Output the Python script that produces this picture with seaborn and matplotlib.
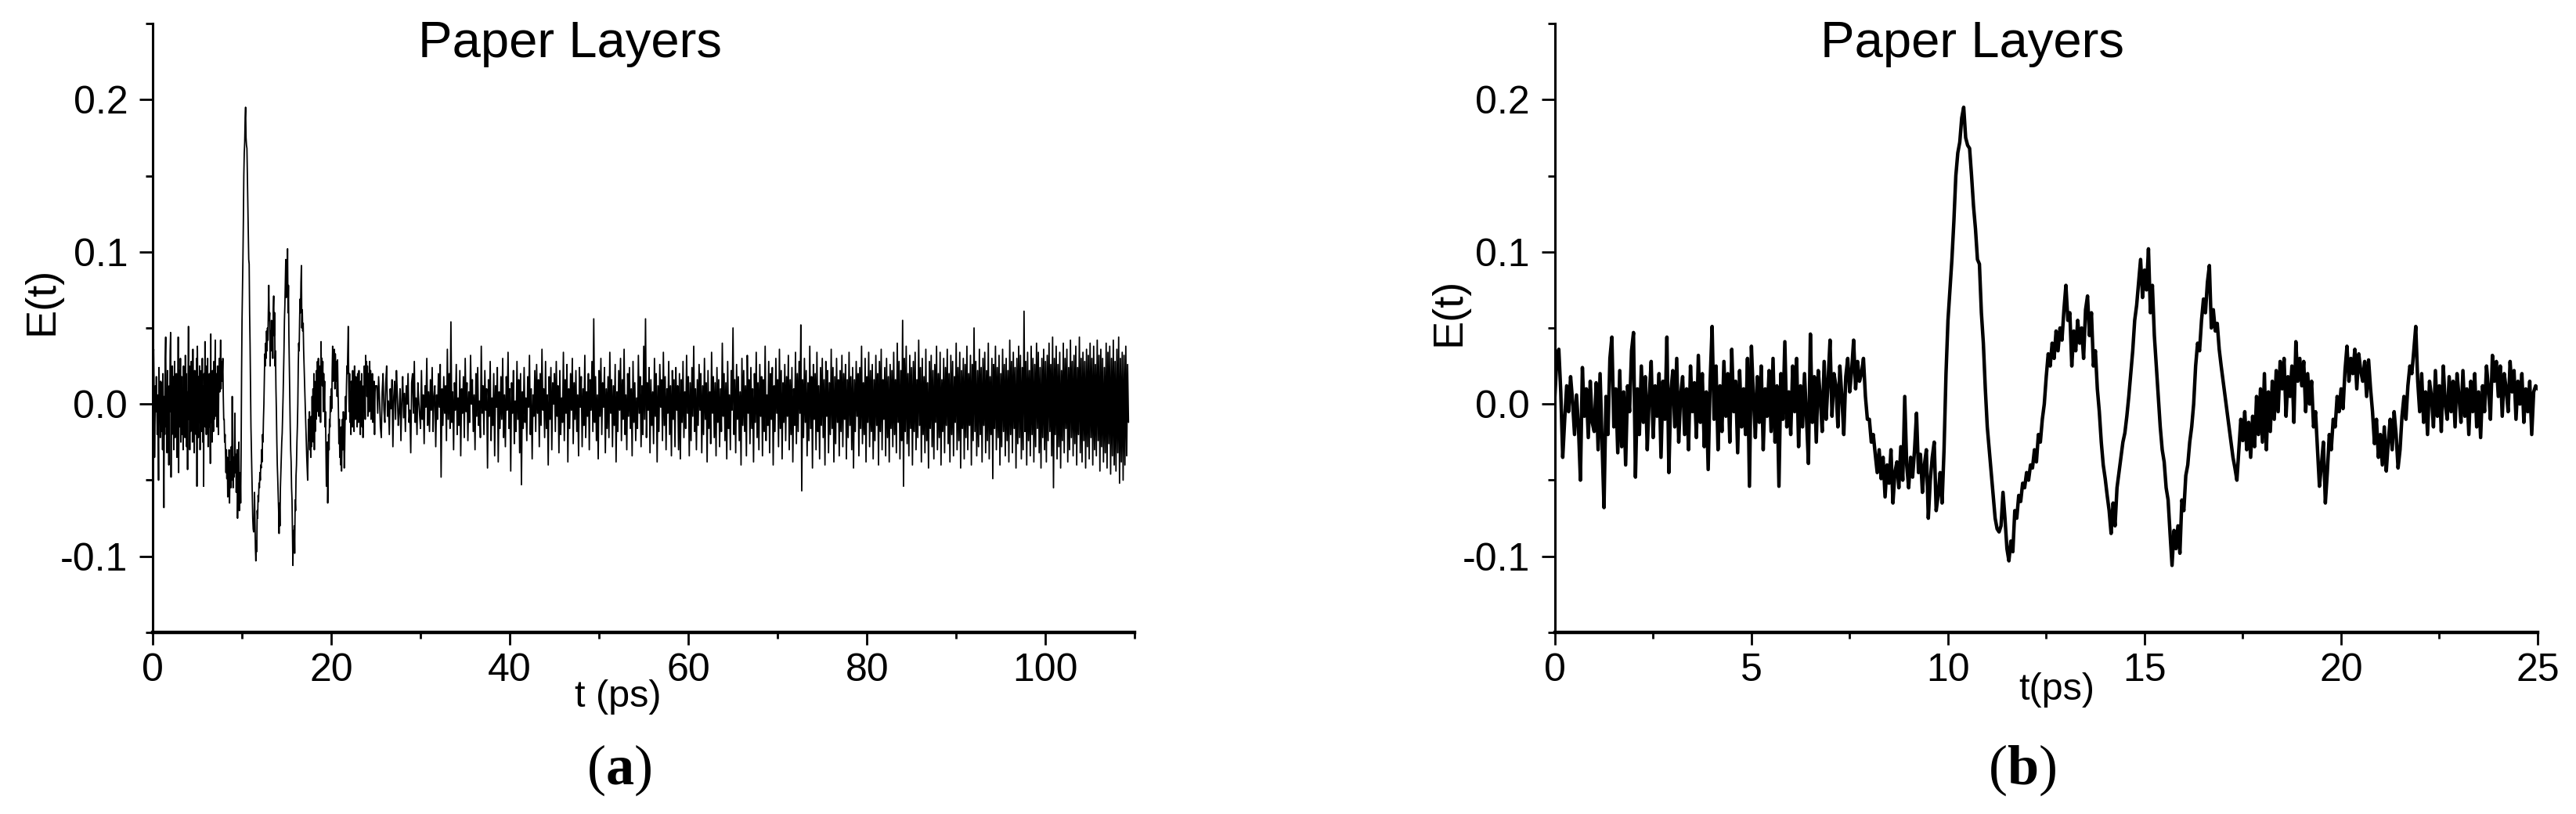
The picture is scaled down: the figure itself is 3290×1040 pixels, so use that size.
import numpy as np
import pandas as pd
import matplotlib
matplotlib.use("Agg")
import matplotlib.pyplot as plt
import seaborn as sns
from matplotlib.ticker import FixedLocator

e_first_25ps = [
    5, 30, 36, 8, -35, -10, 12, -5, 18, 2, -20, 6, -15, -50, 24, -8, 10, -22, 15, -12,
    -18, 14, -30, 20, -25, -68, 5, -20, 30, 44, -15, 10, -32, 22, -28, 8, -40, 12, -5, 35,
    47, -48, 10, -20, 25, -12, 18, -30, 5, 28, -22, 12, -8, 20, -35, 15, -10, 44, -45, 8,
    22, -15, 30, -25, 6, 18, -20, 10, -30, 25, -5, 14, -22, 32, -12, 20, -28, 8, -43, 15,
    51, -10, 25, -30, 12, -18, 28, -8, 20, -25, 36, -5, 15, -32, 22, -15, 10, -20, 30, -54,
    38, 5, -22, 18, -12, 25, -30, 10, -8, 22, -18, 30, -25, 12, -54, 20, -10, 41, -15, 8,
    -20, 25, -5, 30, -28, 12, -15, 20, -8, -39, 46, -12, 18, -25, 22, 5, -18, 28, -10, 15,
    42, -8, 20, 12, -15, 25, 5, -20, 18, 30, 8, 22, 42, 10, 28, 15, 20, 30, 5, -10,
    -10, -25, -20, -33, -45, -30, -49, -35, -61, -40, -52, -30, -65, -45, -38, -55, -28, -50, 5, -40,
    -55, -35, -48, -30, -6, -45, -33, -58, -40, -30, -75, -50, -35, -25, -70, -60, -45, -65, -30, 20,
    55, 75, 95, 120, 150, 165, 172, 188, 195, 175, 170, 168, 150, 130, 115, 95, 92, 60, 40, 10,
    -15, -30, -45, -60, -75, -82, -84, -80, -58, -75, -95, -103, -90, -97, -70, -75, -60, -64, -52, -55,
    -45, -50, -40, -42, -30, -38, -20, -25, -10, 0, 18, 33, 25, 40, 30, 48, 35, 50, 42, 62,
    78, 55, 60, 25, 48, 35, 55, 40, 50, 30, 62, 71, 45, 60, 25, 35, 10, -5, -25, -40,
    -49, -60, -70, -85, -65, -80, -55, -45, -35, -25, -19, -8, 5, 20, 35, 55, 65, 80, 95, 70,
    88, 75, 102, 60, 78, 45, 25, 5, -15, -30, -38, -55, -63, -85, -106, -83, -95, -80, -98, -63,
    -70, -47, -40, -25, -15, 0, 25, 40, 35, 55, 69, 60, 80, 91, 50, 62, 48, 53, 36, 25,
    15, 5, -5, -15, -25, -35, -42, -50, -30, -10, -24, -5, -30, -12, -35, -8, -28, 5, -20, 10,
    -25, 20, -30, 8, -18, 15, -10, 22, -5, 28, 10, 30, -8, 18, 5, 25, -12, 41, 15, 30,
    12, 28, -5, 20, 0, 15, -15, -5, -30, -54, -40, -25, -65, -45, -20, -30, -10, -15, 5, -5,
    10, -3, 22, 38, 15, 30, 20, 36, 10, 33, 22, 15, 28, 5, 29, 10, -5, -26, -10, -35,
    -20, -40, -15, -44, -25, -10, -30, -5, -20, -42, -30, -8, 5, -10, 12, 25, 20, 35, 51, 15,
    -5, 20, -12, 8, -20, 15, 5, -15, 22, -8, 12, -18, 25, 0, -10, 18, -5, 15, -15, 20,
    5, -12, 22, -8, 10, -20, 15, -5, 20, -15, 8, -22, 12, -5, 25, 10, -10, 32, 15, 28,
    5, 25, -8, 20, 10, -5, 28, 8, 22, -10, 15, 0, 20, -12, 10, -5, 15, -20, 8, 12,
    10,
]

# rest of the long record, in units of 1e-3, sampled every 0.1 ps from 25.1 to 109.3 ps
e_tail = [
    12, -6, 18, 4, -15, -22, 8, 20, -4, -12, 14, 25, -8, 2, -20, 10, -3, 16, -28, 5,
    15, -10, 22, 6, -14, -5, 10, -24, 3, 18, -9, 7, -18, 12, 0, 20, -12, -4, -32, 14,
    20, -6, 28, -12, 4, -20, 14, 2, -8, -16, 22, -10, 6, -26, 12, -2, 30, -14, 8, -18,
    16, -4, 24, -18, 5, 12, -28, 6, -10, 20, -2, 26, -48, 10, -14, 18, -6, 12, -24, 36,
    -10, 20, -16, 54, -12, 8, -30, 14, -4, 26, -20, 4, -14, 22, -34, 10, -6, 18, -22, 30,
    -5, 14, -24, 8, -12, 32, 0, 16, -18, 6, -30, 20, -8, 24, -14, 2, -22, 38, -6, 12,
    -20, 22, -4, 10, -42, 16, -8, 28, -24, 4, -14, 20, -34, 12, -2, 24, -38, 8, -16, 18,
    -10, 30, -22, 6, -28, 18, -4, 34, -16, 10, -44, 14, -6, 22, -26, 2, -18, 28, -10, 16,
    -32, 20, -53, 8, -16, 24, -12, 4, -24, 18, -2, 32, -20, 10, -36, 6, -8, 22, -18, 26,
    -6, 16, -28, 20, -14, 36, -4, 10, -22, 28, -16, 6, -40, 18, -10, 24, -30, 14, 0, 20,
    -18, 28, -8, 12, -32, 22, -20, 4, -12, 34, -24, 16, -6, 26, -38, 10, -16, 20, -4, 30,
    -26, 14, -10, 22, -18, 6, -34, 24, -2, 18, -28, 10, -14, 32, -22, 8, -8, 20, -30, 16,
    -4, 28, -18, 56, -12, 18, -24, 6, -36, 22, -8, 30, -20, 14, -2, 24, -32, 10, -16, 18,
    -22, 34, -6, 16, -28, 12, -14, 26, -38, 8, -18, 22, -4, 30, -24, 16, -10, 36, -20, 6,
    -30, 20, -8, 24, -16, 10, -34, 28, -12, 14, -24, 4, -16, 32, -6, 18, -28, 12, -20, 38,
    -10, 56, -22, 14, -4, 24, -32, 16, -14, 8, -26, 30, -8, 20, -38, 12, -18, 26, -2, 16,
    -24, 34, -14, 18, -30, 10, -6, 28, -20, 12, -34, 22, -10, 16, -28, 24, -4, 12, -30, 20,
    -36, 16, -12, 28, -22, 8, -16, 32, -6, 18, -34, 14, -24, 24, -8, 38, -18, 10, -30, 16,
    -14, 26, -4, 20, -32, 12, -20, 30, -10, 14, -38, 22, -16, 8, -26, 34, -6, 18, -22, 14,
    -34, 24, -12, 16, -28, 10, -18, 40, -8, 20, -24, 14, -36, 28, -16, 6, -30, 22, -4, 50,
    -20, 16, -32, 26, -10, 18, -24, 8, -40, 30, -14, 22, -18, 12, -34, 32, -6, 16, -26, 24,
    -16, 10, -38, 20, -12, 34, -22, 14, -30, 26, -8, 18, -34, 16, -18, 38, -24, 6, -14, 28,
    -32, 20, -10, 24, -40, 12, -18, 30, -6, 16, -28, 36, -16, 22, -36, 14, -12, 26, -24, 18,
    -8, 32, -30, 16, -20, 24, -38, 10, -14, 34, -26, 20, -18, 28, -6, 52, -57, 16, -22, 30,
    -12, 22, -34, 14, -24, 38, -16, 18, -42, 26, -10, 20, -30, 34, -18, 12, -36, 24, -14, 30,
    -22, 16, -40, 28, -8, 22, -32, 14, -20, 36, -16, 24, -38, 18, -26, 30, -12, 16, -34, 22,
    -18, 32, -28, 20, -10, 26, -36, 16, -22, 34, -14, 18, -30, 24, -42, 16, -18, 28, -8, 20,
    -34, 24, -16, 38, -26, 14, -20, 30, -38, 18, -12, 34, -28, 22, -18, 26, -36, 16, -24, 32,
    -14, 20, -40, 28, -18, 36, -30, 16, -10, 24, -34, 30, -22, 18, -38, 26, -16, 22, -28, 34,
    -20, 16, -32, 40, -12, 28, -36, 22, -24, 55, -54, 30, -18, 38, -26, 20, -34, 32, -16, 24,
    -40, 28, -18, 34, -30, 16, -22, 42, -14, 24, -38, 30, -20, 18, -32, 36, -24, 14, -42, 28,
    -16, 32, -28, 22, -36, 26, -12, 38, -30, 20, -22, 34, -40, 16, -18, 30, -32, 24, -14, 36,
    -26, 20, -38, 32, -20, 28, -34, 18, -12, 40, -30, 24, -24, 34, -42, 22, -16, 30, -36, 26,
    -22, 38, -30, 20, -14, 32, -40, 26, -24, 50, -18, 28, -34, 22, -28, 36, -20, 24, -38, 30,
    -14, 34, -32, 22, -24, 40, -36, 18, -20, 30, -49, 26, -16, 38, -30, 24, -22, 32, -40, 20,
    -28, 36, -18, 26, -34, 30, -24, 22, -38, 42, -20, 28, -32, 34, -16, 24, -42, 30, -26, 38,
    -22, 32, -36, 24, -30, 61, -18, 28, -40, 34, -24, 22, -34, 38, -20, 30, -38, 26, -28, 40,
    -16, 34, -32, 24, -42, 30, -22, 36, -30, 28, -38, 32, -24, 40, -18, 26, -34, 44, -55, 30,
    -20, 38, -36, 26, -28, 34, -42, 22, -24, 40, -32, 30, -16, 36, -38, 24, -30, 42, -22, 28,
    -34, 32, -26, 38, -40, 24, -20, 44, -32, 30, -38, 34, -24, 28, -42, 36, -28, 32, -36, 40,
    -22, 30, -40, 38, -30, 26, -34, 42, -24, 32, -44, 36, -28, 30, -38, 24, -32, 40, -42, 34,
    -26, 38, -46, 30, -34, 42, -40, 28, -44, 36, -32, 44, -52, 30, -38, 34, -50, 32, -40, 38,
    -34, 26, -12,
]

dt_fine = 0.05   # ps
dt_coarse = 0.1  # ps
t_split = 25.0   # ps

title = "Paper Layers"
x_labels = ["t (ps)", "t(ps)"]
panel_tags = ["a", "b"]
x_limits = [(0, 110), (0, 25)]
x_major = [[0, 20, 40, 60, 80, 100], [0, 5, 10, 15, 20, 25]]
x_minor = [[10, 30, 50, 70, 90, 110], [2.5, 7.5, 12.5, 17.5, 22.5]]
y_major = [-0.1, 0.0, 0.1, 0.2]
y_tick_labels = ["-0.1", "0.0", "0.1", "0.2"]
y_minor = [-0.15, -0.05, 0.05, 0.15, 0.25]

# build the two traces
e_b = np.array(e_first_25ps) / 1000.0
t_b = np.arange(len(e_b)) * dt_fine
e_tail_v = np.array(e_tail) / 1000.0
t_tail = t_split + dt_coarse * np.arange(1, len(e_tail_v) + 1)
df_b = pd.DataFrame({"t": t_b, "E": e_b})
df_a = pd.DataFrame({"t": np.concatenate([t_b[:-1], t_tail]),
                     "E": np.concatenate([e_b[:-1], e_tail_v])})

sns.set_theme(style="ticks")
plt.rcParams["font.family"] = ["Liberation Sans", "DejaVu Sans"]
plt.rcParams["axes.unicode_minus"] = False
plt.rcParams["mathtext.fontset"] = "custom"
plt.rcParams["mathtext.rm"] = "Liberation Serif"
plt.rcParams["mathtext.bf"] = "Liberation Serif:bold"

fig = plt.figure(figsize=(32.9, 10.4), dpi=100)
ax_a = fig.add_axes([0.0593, 0.2231, 0.3812, 0.748])
ax_b = fig.add_axes([0.6036, 0.2231, 0.3815, 0.748])

sns.lineplot(data=df_a, x="t", y="E", ax=ax_a, color="black", linewidth=1.3,
             estimator=None, sort=False)
sns.lineplot(data=df_b, x="t", y="E", ax=ax_b, color="black", linewidth=3.2,
             estimator=None, sort=False)

ylab_pos = [(-0.113, 0.544), (-0.108, 0.526)]
xlab_pos = [(0.474, -0.1216), (0.511, -0.110)]
tag_x = [0.2404, 0.785]

for i, ax in enumerate([ax_a, ax_b]):
    ax.set_xlim(*x_limits[i])
    ax.set_ylim(-0.15, 0.25)
    ax.xaxis.set_major_locator(FixedLocator(x_major[i]))
    ax.xaxis.set_minor_locator(FixedLocator(x_minor[i]))
    ax.set_xticklabels([str(v) for v in x_major[i]])
    ax.yaxis.set_major_locator(FixedLocator(y_major))
    ax.yaxis.set_minor_locator(FixedLocator(y_minor))
    ax.set_yticklabels(y_tick_labels)
    sns.despine(ax=ax)
    ax.spines["left"].set_linewidth(2.2)
    ax.spines["bottom"].set_linewidth(3.2)
    ax.spines["left"].set_color("black")
    ax.spines["bottom"].set_color("black")
    ax.tick_params(axis="x", which="major", direction="out", length=11.5, width=2.0,
                   labelsize=36, pad=7, color="black", labelcolor="black")
    ax.tick_params(axis="x", which="minor", direction="out", length=6, width=2.0,
                   color="black")
    ax.tick_params(axis="y", which="major", direction="out", length=12, width=2.0,
                   labelsize=36, pad=11, color="black", labelcolor="black")
    ax.tick_params(axis="y", which="minor", direction="out", length=6.5, width=2.0,
                   color="black")
    ax.set_xlabel("")
    ax.set_ylabel("")
    ax.text(0.425, 0.945, title, transform=ax.transAxes, ha="center",
            va="baseline", fontsize=47, color="black")
    ax.text(ylab_pos[i][0], ylab_pos[i][1], "E(t)", transform=ax.transAxes,
            ha="center", va="center", rotation=90, fontsize=39, color="black")
    ax.text(xlab_pos[i][0], xlab_pos[i][1], x_labels[i], transform=ax.transAxes,
            ha="center", va="baseline", fontsize=35, color="black")
    fig.text(tag_x[i], 0.0365, r"$\mathrm{(}\mathbf{" + panel_tags[i] + r"}\mathrm{)}$",
             ha="center", va="baseline", fontsize=52, color="black")

fig.savefig("out.png", dpi=100, facecolor="white")
